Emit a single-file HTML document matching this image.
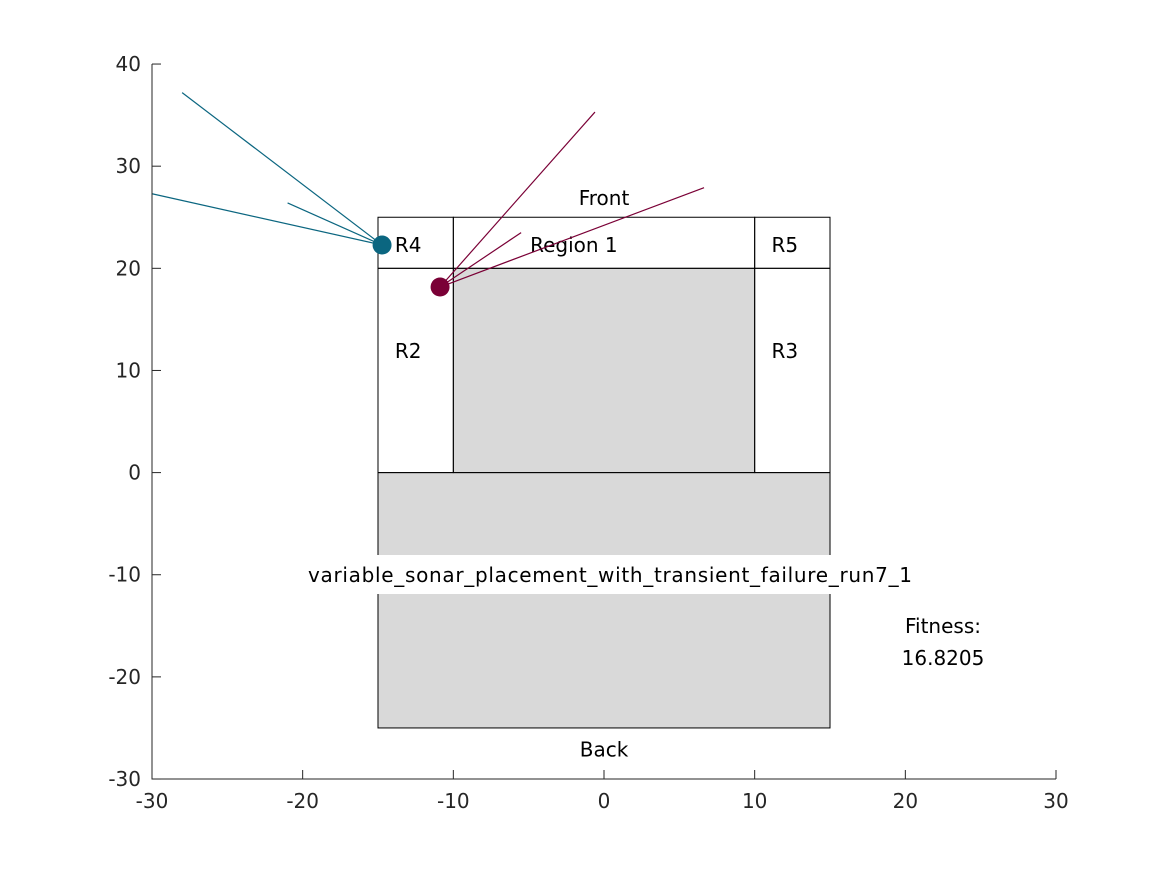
<!DOCTYPE html>
<html><head><meta charset="utf-8"><style>
body{margin:0;background:#fff;}
svg text{font-family:"DejaVu Sans","Liberation Sans",sans-serif;}
</style></head><body>
<svg id="chart" width="1167" height="875" xmlns="http://www.w3.org/2000/svg">
<rect width="1167" height="875" fill="#fff"/>
<g id="g"></g>
</svg>
<script>
const xTicks=[-30,-20,-10,0,10,20,30];
const yTicks=[-30,-20,-10,0,10,20,30,40];
const grayRects=[[-15,-25,15,0],[-10,0,10,20]];
const outlineRects=[[-15,-25,15,0],[-15,0,-10,20],[-10,0,10,20],[10,0,15,20],[-15,20,-10,25],[-10,20,10,25],[10,20,15,25]];
const regionLabels=[["R4",-13,22.3],["Region 1",-2,22.3],["R5",12,22.3],["R2",-13,11.9],["R3",12,11.9],["Front",0,26.9],["Back",0,-27.1]];
const sensorNames=["sensor-blue","sensor-red"];
const sensorX=[-14.73,-10.88];
const sensorY=[22.28,18.17];
const sensorColors=["#0b6680","#7a0036"];
const beamEndX=[[-28.0,-21.0,-30.0],[-0.6,-5.5,6.64]];
const beamEndY=[[37.2,26.4,27.3],[35.3,23.5,27.9]];
const fitness="16.8205";
const X=v=>604+(v)*15.067, Y=v=>472.6-(v)*10.214;
const g=document.getElementById('g');const NS="http://www.w3.org/2000/svg";
function mk(t,a,p){const e=document.createElementNS(NS,t);for(const k in a)e.setAttribute(k,a[k]);(p||g).appendChild(e);return e;}
grayRects.forEach((r,i)=>{const e=mk('rect',{x:X(r[0]),y:Y(r[3]),width:X(r[2])-X(r[0]),height:Y(r[1])-Y(r[3]),fill:'#d9d9d9'});

});
outlineRects.forEach(r=>{const e=mk('rect',{x:X(r[0]),y:Y(r[3]),width:X(r[2])-X(r[0]),height:Y(r[1])-Y(r[3]),fill:'none',stroke:'#000','stroke-width':1});

});
regionLabels.forEach(l=>{const e=mk('text',{x:X(l[1]),y:Y(l[2])+7,'text-anchor':'middle','font-size':20,fill:'#000'});e.textContent=l[0];

});
const tb=mk('rect',{x:302,y:555,width:603,height:39,fill:'#fff'});


const tt=mk('text',{x:308,y:582,'font-size':20,textLength:604});tt.textContent="variable_sonar_placement_with_transient_failure_run7_1";


const f1=mk('text',{x:943,y:633,'text-anchor':'middle','font-size':20});f1.textContent="Fitness:";


const f2=mk('text',{x:943,y:665,'text-anchor':'middle','font-size':20});f2.textContent=fitness;


sensorX.forEach((sx,i)=>{beamEndX[i].forEach((ex,j)=>{let x2=X(ex),y2=Y(beamEndY[i][j]);const x1=X(sx),y1=Y(sensorY[i]);
if(x2<152){const t=(152-x1)/(x2-x1);x2=152;y2=y1+t*(y2-y1);}
const l=mk('line',{x1:x1,y1:y1,x2:x2,y2:y2,stroke:sensorColors[i],'stroke-width':1.2});

});});
sensorX.forEach((sx,i)=>{const c=mk('circle',{cx:X(sx),cy:Y(sensorY[i]),r:9.5,fill:sensorColors[i]});

});
const ax=mk('path',{d:`M152,${Y(40)}V779H1056`,fill:'none',stroke:'#262626','stroke-width':1});


xTicks.forEach(v=>{const t=mk('line',{x1:X(v),x2:X(v),y1:779,y2:770,stroke:'#262626'});


const s=mk('text',{x:X(v),y:808,'text-anchor':'middle','font-size':20,fill:'#262626'});s.textContent=v;

});
yTicks.forEach(v=>{const t=mk('line',{x1:152,x2:161,y1:Y(v),y2:Y(v),stroke:'#262626'});


const s=mk('text',{x:141,y:Y(v)+7,'text-anchor':'end','font-size':20,fill:'#262626'});s.textContent=v;

});
</script>
</body></html>
